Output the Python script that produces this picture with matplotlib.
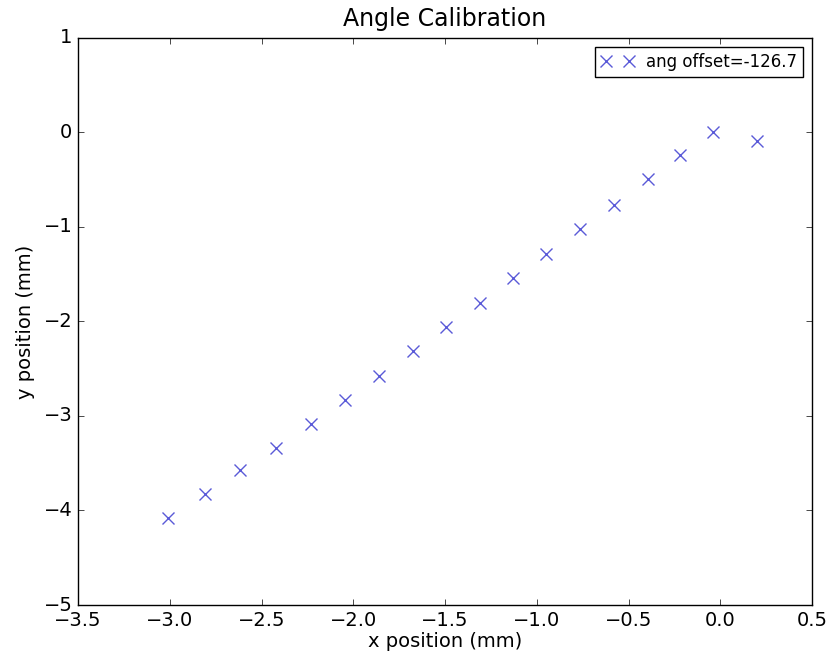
import matplotlib
matplotlib.use("Agg")
import matplotlib.pyplot as plt

plt.style.use("classic")

# measured spot positions (mm)
x_pos = [-3.01, -2.81, -2.62, -2.42, -2.23, -2.045, -1.86, -1.674, -1.495,
         -1.309, -1.129, -0.95, -0.764, -0.579, -0.394, -0.219, -0.04, 0.20]
y_pos = [-4.08, -3.83, -3.57, -3.34, -3.08, -2.83, -2.58, -2.31, -2.06,
         -1.80, -1.54, -1.29, -1.02, -0.77, -0.49, -0.24, 0.0, -0.09]
ang_offset = -126.7

fig = plt.figure(figsize=(8.39, 6.55), dpi=100, facecolor="white")
ax = fig.add_axes([0.093, 0.0763, 0.875, 0.866])

ax.plot(x_pos, y_pos, "x", color="#5a5ad8", markersize=8, markeredgewidth=1.0,
        label="ang offset=%.1f" % ang_offset)

ax.set_xlim(-3.5, 0.5)
ax.set_ylim(-5, 1)
ax.set_xticks([-3.5, -3.0, -2.5, -2.0, -1.5, -1.0, -0.5, 0.0, 0.5])
ax.set_yticks([-5, -4, -3, -2, -1, 0, 1])
ax.tick_params(labelsize=14)

ax.set_title("Angle Calibration", fontsize=17, y=1.008)
ax.set_xlabel("x position (mm)", fontsize=14, labelpad=2)
ax.set_ylabel("y position (mm)", fontsize=14, labelpad=6)

ax.legend(loc="upper right", numpoints=2, fontsize=12, borderaxespad=0.55,
          handletextpad=0.7, borderpad=0.35, handlelength=2.0)

fig.savefig("out.png", dpi=100, facecolor="white")
